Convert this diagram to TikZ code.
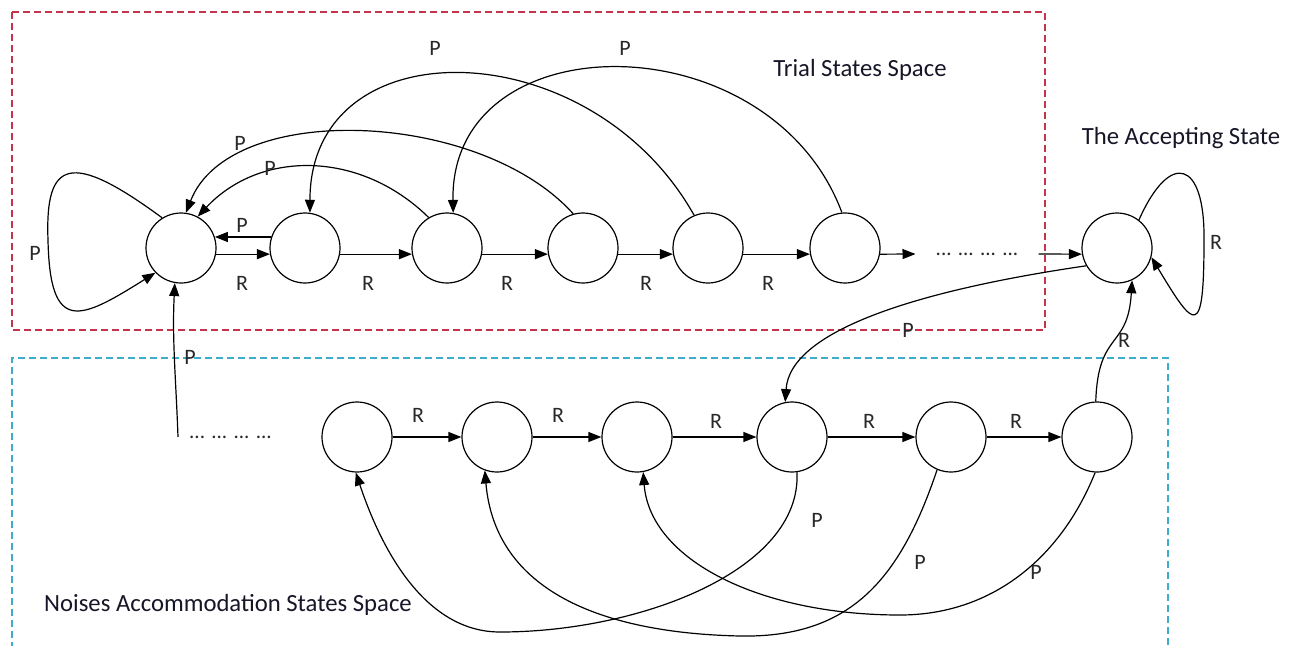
\documentclass[tikz,border=0pt]{standalone}
\usepackage{fontspec}
\setmainfont{Carlito}
\usetikzlibrary{arrows.meta}
\definecolor{trialred}{RGB}{196,52,76}
\definecolor{noiseblue}{RGB}{62,172,204}
\definecolor{labelgray}{RGB}{40,40,40}
\definecolor{titleink}{RGB}{22,22,40}
\tikzset{
  state/.style={circle, draw, line width=1.2pt, minimum size=70pt, inner sep=0pt},
  edge/.style={line width=1.2pt, -{Triangle[length=13pt,width=10pt]}},
  lbl/.style={text=labelgray, font=\fontsize{22}{25}\selectfont, inner sep=1pt},
  title/.style={text=titleink, font=\fontsize{24.7}{28}\selectfont, inner sep=0pt},
  dots/.style={text=labelgray, font=\fontsize{21}{24}\selectfont},
  spacebox/.style={line width=1.3pt, dash pattern=on 7pt off 4pt}
}
\begin{document}
\begin{tikzpicture}[x=1pt,y=-1pt]
\useasboundingbox[fill=white] (0,0) rectangle (1297,645);

% state-space frames
\draw[spacebox, trialred] (12,12) rectangle (1045,330);
\draw[spacebox, noiseblue] (12,660) -- (12,358) -- (1168,358) -- (1168,660);

\node[title] (ttrial) at (860,70) {Trial States Space};
\node[title] (taccept) at (1181,138) {The Accepting State};
\node[title] (tnoise) at (228,605) {Noises Accommodation States Space};

% trial states
\node[state] (t1) at (181,248) {};
\node[state] (t2) at (305,248) {};
\node[state] (t3) at (447,248) {};
\node[state] (t4) at (583,248) {};
\node[state] (t5) at (708,248) {};
\node[state] (t6) at (845,248) {};
\node[dots, inner xsep=20pt] (dotsT) at (977,254) {... ... ... ...};
\node[state] (acc) at (1117,248) {};

% noise accommodation states
\node[state] (b1) at (357,437) {};
\node[state] (b2) at (497,437) {};
\node[state] (b3) at (637,437) {};
\node[state] (b4) at (792,437) {};
\node[state] (b5) at (951,437) {};
\node[state] (b6) at (1097,437) {};
\node[dots, anchor=west, inner sep=0pt] (dotsB) at (189,437) {... ... ... ...};
\coordinate (pdots) at (178,437);

% R transitions along the trial chain
\draw[edge] (t1.-10) -- (t2.-170);
\draw[edge] (t2.-10) -- (t3.-170);
\draw[edge] (t3.-10) -- (t4.-170);
\draw[edge] (t4.-10) -- (t5.-170);
\draw[edge] (t5.-10) -- (t6.-170);
\draw[edge] (t6.-10) -- (dotsT.west);
\draw[edge] (dotsT.east) -- (acc.-170);
\draw[edge] (t2.162) -- (t1.18);

\node[lbl] (r1) at (242,283) {R};
\node[lbl] (r2) at (368,283) {R};
\node[lbl] (r3) at (507,283) {R};
\node[lbl] (r4) at (646,283) {R};
\node[lbl] (r5) at (768,283) {R};
\node[lbl] (p12) at (242,225) {P};

% P transitions back to earlier trial states
\draw[edge] (t1.122) .. controls (70,150) and (45,160) .. (48,240)
            .. controls (50,335) and (80,320) .. (t1.224);
\node[lbl] (ploop) at (35,253) {P};
\draw[edge] (t3.121) .. controls (360,150) and (260,150) .. (t1.62);
\node[lbl] (p31) at (270,168) {P};
\draw[edge] (t4.106) .. controls (480,110) and (230,100) .. (t1.82);
\node[lbl] (p41) at (240,143) {P};
\draw[edge] (t5.113) .. controls (590,30) and (310,25) .. (t2.82);
\node[lbl] (p52) at (435,48) {P};
\draw[edge] (t6.95) .. controls (770,20) and (450,20) .. (t3.80);
\node[lbl] (p63) at (625,48) {P};

% accepting state
\draw[edge] (acc.52) .. controls (1170,150) and (1205,160) .. (1204,240)
            .. controls (1204,340) and (1195,330) .. (acc.-15);
\node[lbl] (racc) at (1216,242) {R};
\draw[edge] (acc.210) .. controls (920,290) and (790,330) .. (b4.101);
\node[lbl] (pacc) at (908,330) {P};

% R transitions along the noise chain
\draw[edge] (b1) -- (b2);
\draw[edge] (b2) -- (b3);
\draw[edge] (b3) -- (b4);
\draw[edge] (b4) -- (b5);
\draw[edge] (b5) -- (b6);
\node[lbl] (s1) at (418,415) {R};
\node[lbl] (s2) at (558,415) {R};
\node[lbl] (s3) at (716,421) {R};
\node[lbl] (s4) at (869,421) {R};
\node[lbl] (s5) at (1016,421) {R};
\draw[edge] (b6.92) .. controls (1098,330) and (1128,350) .. (acc.-65);
\node[lbl] (racc2) at (1124,340) {R};

% P transitions inside the noise chain
\draw[edge] (b4.-82) .. controls (802,570) and (640,632) .. (500,632)
            .. controls (430,632) and (385,560) .. (b1.-92);
\node[lbl] (q41) at (817,520) {P};
\draw[edge] (b5.-113) .. controls (900,580) and (850,638) .. (740,636)
            .. controls (600,633) and (495,590) .. (b2.-110);
\node[lbl] (q52) at (920,562) {P};
\draw[edge] (b6.-93) .. controls (1060,560) and (990,615) .. (900,615)
            .. controls (760,615) and (650,560) .. (b3.-80);
\node[lbl] (q63) at (1036,572) {P};

% entry from the noise chain back to the first trial state
\draw[edge] (pdots) .. controls (176,380) and (172,340) .. (t1.-100);
\node[lbl] (pentry) at (190,357) {P};
\end{tikzpicture}
\end{document}
